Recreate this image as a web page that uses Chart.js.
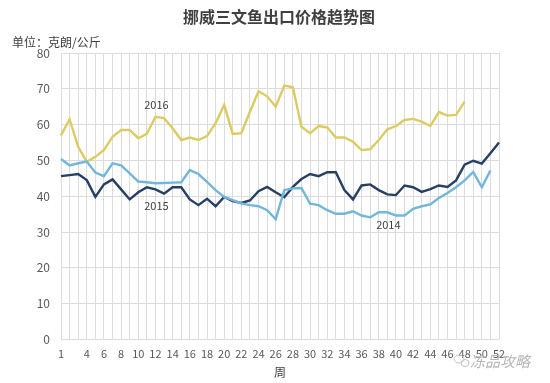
<!DOCTYPE html>
<html>
<head>
<meta charset="utf-8">
<script src="https://cdn.jsdelivr.net/npm/chart.js@4/dist/chart.umd.min.js"></script>
<style>
  html, body { margin: 0; padding: 0; background: #fff; }
  #wrap { width: 550px; height: 383px; position: relative; }
</style>
</head>
<body>
<div id="wrap"><canvas id="salmon"></canvas></div>
<script>
// ══════════════════════════════
//  DATA (周 / 克朗每公斤)
// ══════════════════════════════
const weeks = Array.from({ length: 52 }, (_, i) => String(i + 1));
const shownWeeks = ['1', '4', '6', '8', '10', '12', '14', '16', '18', '20', '22', '24', '26',
  '28', '30', '32', '34', '36', '38', '40', '42', '44', '46', '48', '50', '52'];
const yTicks = [0, 10, 20, 30, 40, 50, 60, 70, 80];

const s2014 = [
  50.4, 48.6, 49.2, 49.7, 46.6, 45.6, 49.2, 48.6, 46.4, 44.1,
  43.9, 43.6, 43.7, 43.8, 43.9, 47.3, 46.2, 44.0, 41.7, 39.8,
  38.9, 38.0, 37.5, 37.2, 36.1, 33.6, 41.7, 42.2, 42.3, 37.9,
  37.5, 36.1, 35.1, 35.1, 35.8, 34.6, 34.1, 35.5, 35.5, 34.6,
  34.6, 36.5, 37.2, 37.7, 39.5, 40.9, 42.5, 44.4, 46.8, 42.5,
  47.2
];
const s2015 = [
  45.6, 45.9, 46.2, 44.5, 39.8, 43.3, 44.7, 41.9, 39.1, 41.1,
  42.5, 41.9, 40.7, 42.5, 42.5, 39.1, 37.5, 39.3, 37.2, 39.8,
  38.6, 38.1, 38.8, 41.4, 42.6, 41.1, 39.7, 42.6, 44.8, 46.2,
  45.6, 46.7, 46.7, 41.7, 39.1, 43.0, 43.3, 41.7, 40.5, 40.3,
  43.0, 42.5, 41.2, 42.0, 43.0, 42.6, 44.4, 48.8, 49.9, 49.1,
  52.0, 55.0
];
const s2016 = [
  57.0, 61.5, 53.8, 49.6, 51.0, 52.9, 56.6, 58.5, 58.5, 56.2,
  57.4, 62.2, 61.8, 59.0, 55.7, 56.4, 55.7, 56.8, 60.4, 65.5,
  57.4, 57.6, 63.6, 69.3, 67.9, 65.0, 70.9, 70.4, 59.4, 57.6,
  59.6, 59.2, 56.4, 56.4, 55.2, 52.9, 53.1, 55.7, 58.7, 59.6,
  61.3, 61.6, 60.8, 59.6, 63.5, 62.5, 62.7, 66.4
];

const FONT = "'Noto Sans CJK SC', 'Noto Sans', sans-serif";

// Plugin: 标题、单位、系列名、水印
const decor = {
  id: 'decor',
  afterDraw(chart) {
    const ctx = chart.ctx;
    ctx.save();
    ctx.textBaseline = 'middle';

    ctx.fillStyle = '#404040';
    ctx.font = 'bold 16px ' + FONT;
    ctx.textAlign = 'center';
    ctx.fillText('挪威三文鱼出口价格趋势图', 279, 17);

    ctx.fillStyle = '#404040';
    ctx.font = '12px ' + FONT;
    ctx.textAlign = 'left';
    ctx.fillText('单位：克朗/公斤', 12, 42);

    // 系列名称贴在对应点附近
    const tags = [
      { ds: 2, idx: 11, text: '2016', dy: -12 },
      { ds: 1, idx: 11, text: '2015', dy: 16 },
      { ds: 0, idx: 38, text: '2014', dy: 13 },
    ];
    ctx.fillStyle = '#404040';
    ctx.font = '11px ' + FONT;
    ctx.textAlign = 'center';
    tags.forEach(t => {
      const p = chart.getDatasetMeta(t.ds).data[t.idx];
      ctx.fillText(t.text, p.x + 1, p.y + t.dy);
    });

    // 水印
    ctx.strokeStyle = '#c4c4c4';
    ctx.lineWidth = 1;
    ctx.beginPath();
    ctx.ellipse(459, 359, 5, 4, 0, 0, Math.PI * 2);
    ctx.stroke();
    ctx.beginPath();
    ctx.ellipse(465, 363, 4, 3.5, 0, 0, Math.PI * 2);
    ctx.stroke();
    ctx.fillStyle = '#b5b5b5';
    ctx.font = 'italic 15px ' + FONT;
    ctx.textAlign = 'left';
    ctx.fillText('冻品攻略', 470, 361);
    ctx.restore();
  }
};

const line = (label, data, color) => ({
  label, data,
  borderColor: color,
  backgroundColor: color,
  borderWidth: 2.4,
  pointRadius: 0,
  tension: 0,
  fill: false,
});

new Chart(document.getElementById('salmon'), {
  type: 'line',
  plugins: [decor],
  data: {
    labels: weeks,
    datasets: [
      line('2014', s2014, '#72b6dc'),
      line('2015', s2015, '#263f66'),
      line('2016', s2016, '#dccb62'),
    ],
  },
  options: {
    responsive: true,
    maintainAspectRatio: false,
    animation: false,
    devicePixelRatio: 1,
    layout: { padding: { left: 0, right: 51, top: 53, bottom: 0 } },
    plugins: {
      legend: { display: false },
      tooltip: { enabled: false },
    },
    scales: {
      x: {
        offset: false,
        grid: { color: '#dcdcdc', drawTicks: false },
        border: { display: false },
        ticks: {
          color: '#595959',
          font: { family: FONT, size: 11 },
          padding: 8,
          autoSkip: false,
          maxRotation: 0,
          callback(v) {
            const l = weeks[v];
            return shownWeeks.includes(l) ? l : '';
          },
        },
        title: {
          display: true,
          text: '周',
          color: '#404040',
          font: { family: FONT, size: 12 },
          padding: { top: 0, bottom: 3 },
        },
        afterFit(scale) { scale.height = 43.6; },
      },
      y: {
        min: 0,
        max: 80,
        grid: { color: '#dcdcdc', drawTicks: false },
        border: { display: false },
        ticks: {
          color: '#595959',
          font: { family: FONT, size: 12 },
          padding: 11,
        },
        afterBuildTicks(axis) { axis.ticks = yTicks.map(v => ({ value: v })); },
        afterFit(scale) { scale.width = 61; },
      },
    },
  },
});
</script>
</body>
</html>
